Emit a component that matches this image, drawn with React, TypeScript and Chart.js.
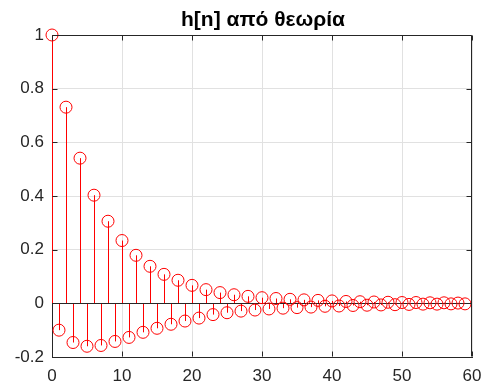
import { useEffect, useRef } from 'react';
import { Chart, registerables } from 'chart.js';

Chart.register(...registerables);

const TITLE = 'h[n] από θεωρία';

const N_VALUES = [
  0, 1, 2, 3, 4, 5, 6, 7, 8, 9,
  10, 11, 12, 13, 14, 15, 16, 17, 18, 19,
  20, 21, 22, 23, 24, 25, 26, 27, 28, 29,
  30, 31, 32, 33, 34, 35, 36, 37, 38, 39,
  40, 41, 42, 43, 44, 45, 46, 47, 48, 49,
  50, 51, 52, 53, 54, 55, 56, 57, 58, 59,
];

const H_VALUES = [
  1.0, -0.100, 0.731, -0.146, 0.541, -0.160, 0.403, -0.157, 0.306, -0.142,
  0.234, -0.127, 0.179, -0.108, 0.138, -0.093, 0.108, -0.078, 0.086, -0.066,
  0.067, -0.055, 0.051, -0.042, 0.040, -0.035, 0.032, -0.029, 0.026, -0.025,
  0.021, -0.021, 0.018, -0.018, 0.015, -0.016, 0.013, -0.014, 0.011, -0.011,
  0.009, -0.010, 0.007, -0.008, 0.006, -0.007, 0.005, -0.006, 0.004, -0.005,
  0.003, -0.004, 0.003, -0.003, 0.002, -0.003, 0.002, -0.002, 0.001, -0.002,
];

const X_MIN = 0;
const X_MAX = 60;
const X_STEP = 10;
const Y_MIN = -0.2;
const Y_MAX = 1;
const Y_STEP = 0.2;

const RED = '#ff0000';
const AXIS = '#262626';
const GRID = '#e1e1e1';
const FONT = "'Liberation Sans', Arial, Helvetica, sans-serif";

const stemPlugin = {
  id: 'stemPlugin',
  beforeDatasetsDraw(chart: any) {
    const { ctx, chartArea, scales } = chart;
    const x = scales.x;
    const y = scales.y;
    const y0 = y.getPixelForValue(0);
    ctx.save();
    ctx.strokeStyle = RED;
    ctx.lineWidth = 1;
    ctx.beginPath();
    N_VALUES.forEach((n, i) => {
      const px = Math.round(x.getPixelForValue(n)) + 0.5;
      ctx.moveTo(px, y0);
      ctx.lineTo(px, y.getPixelForValue(H_VALUES[i]));
    });
    ctx.stroke();
    const by = Math.round(y0) + 0.5;
    ctx.strokeStyle = AXIS;
    ctx.beginPath();
    ctx.moveTo(chartArea.left, by);
    ctx.lineTo(chartArea.right, by);
    ctx.stroke();
    ctx.restore();
  },
  afterDraw(chart: any) {
    const { ctx, chartArea, scales } = chart;
    const { left, right, top, bottom } = chartArea;
    const L = Math.round(left) + 0.5;
    const R = Math.round(right) - 0.5;
    const T = Math.round(top) + 0.5;
    const B = Math.round(bottom) - 0.5;
    ctx.save();
    ctx.strokeStyle = AXIS;
    ctx.lineWidth = 1;
    ctx.beginPath();
    ctx.moveTo(L, T);
    ctx.lineTo(R, T);
    ctx.lineTo(R, B);
    const tl = 5;
    scales.x.ticks.forEach((t: any) => {
      const px = Math.round(scales.x.getPixelForValue(t.value)) + 0.5;
      ctx.moveTo(px, B);
      ctx.lineTo(px, B - tl);
      ctx.moveTo(px, T);
      ctx.lineTo(px, T + tl);
    });
    scales.y.ticks.forEach((t: any) => {
      const py = Math.round(scales.y.getPixelForValue(t.value)) + 0.5;
      ctx.moveTo(L, py);
      ctx.lineTo(L + tl, py);
      ctx.moveTo(R, py);
      ctx.lineTo(R - tl, py);
    });
    ctx.stroke();
    ctx.fillStyle = '#000000';
    ctx.font = `bold 21px ${FONT}`;
    ctx.textAlign = 'center';
    ctx.textBaseline = 'alphabetic';
    ctx.fillText(TITLE, (left + right) / 2 + 1, 26);
    ctx.restore();
  },
};

export default function App() {
  const ref = useRef<HTMLCanvasElement | null>(null);

  useEffect(() => {
    if (!ref.current) return;
    const chart = new Chart(ref.current, {
      type: 'scatter',
      data: {
        datasets: [
          {
            data: N_VALUES.map((n, i) => ({ x: n, y: H_VALUES[i] })),
            borderColor: RED,
            backgroundColor: 'rgba(0,0,0,0)',
            pointRadius: 6,
            pointHoverRadius: 6,
            pointBorderWidth: 1,
            showLine: false,
            clip: false,
          },
        ],
      },
      options: {
        animation: false,
        responsive: false,
        devicePixelRatio: 1,
        events: [],
        layout: { padding: { left: 0, right: 18, top: 35, bottom: 0 } },
        plugins: {
          legend: { display: false },
          title: { display: false },
          tooltip: { enabled: false },
        },
        scales: {
          x: {
            type: 'linear',
            min: X_MIN,
            max: X_MAX,
            afterFit: (s: any) => {
              s.height = 32;
              s.paddingLeft = 0;
              s.paddingRight = 0;
            },
            ticks: {
              stepSize: X_STEP,
              color: AXIS,
              padding: 9,
              maxRotation: 0,
              font: { family: FONT, size: 17 },
            },
            grid: { color: GRID, drawTicks: false },
            border: { display: true, color: AXIS, width: 1 },
          },
          y: {
            type: 'linear',
            min: Y_MIN,
            max: Y_MAX,
            afterFit: (s: any) => {
              s.width = 52;
              s.paddingTop = 0;
              s.paddingBottom = 0;
            },
            ticks: {
              stepSize: Y_STEP,
              color: AXIS,
              padding: 8,
              font: { family: FONT, size: 17 },
              callback: (v: any) => String(Number(Number(v).toFixed(1))),
            },
            grid: { color: GRID, drawTicks: false },
            border: { display: true, color: AXIS, width: 1 },
          },
        },
      },
      plugins: [stemPlugin],
    });
    return () => chart.destroy();
  }, []);

  return (
    <div style={{ position: 'absolute', left: 0, top: 0, width: 490, height: 389, background: '#fff' }}>
      <canvas ref={ref} width={490} height={389} />
    </div>
  );
}
